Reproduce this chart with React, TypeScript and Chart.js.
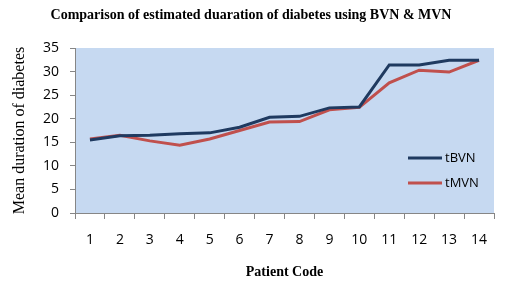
import React, { useEffect, useRef } from "react";
import { Chart, registerables } from "chart.js";

Chart.register(...registerables);

const patientCodes = ["1", "2", "3", "4", "5", "6", "7", "8", "9", "10", "11", "12", "13", "14"];
const tBVN = [15.5, 16.4, 16.5, 16.8, 17.0, 18.2, 20.3, 20.5, 22.3, 22.5, 31.4, 31.4, 32.4, 32.4];
const tMVN = [15.7, 16.5, 15.3, 14.4, 15.7, 17.5, 19.3, 19.4, 21.9, 22.4, 27.6, 30.3, 29.9, 32.4];
const chartTitle = "Comparison of estimated duaration of diabetes using BVN & MVN";
const xTitle = "Patient Code";
const yTitle = "Mean duration of diabetes";

const BLUE = "#1F3A60";
const RED = "#C0504D";
const AXIS = "#868686";

const overlayPlugin = {
  id: "overlay",
  beforeDraw(chart: any) {
    const { ctx, chartArea } = chart;
    ctx.save();
    ctx.fillStyle = "#ffffff";
    ctx.fillRect(0, 0, chart.width, chart.height);
    ctx.fillStyle = "#C6D9F1";
    ctx.fillRect(chartArea.left, chartArea.top, chartArea.right - chartArea.left, chartArea.bottom - chartArea.top);
    ctx.restore();
  },
  afterDraw(chart: any) {
    const { ctx } = chart;
    ctx.save();
    ctx.fillStyle = "#000000";
    ctx.font = "bold 14px 'Liberation Serif', serif";
    ctx.textAlign = "center";
    ctx.textBaseline = "middle";
    ctx.fillText(chartTitle, 251, 15);
    // legend
    const items = chart.data.datasets;
    items.forEach((ds: any, i: number) => {
      const y = 158 + i * 25;
      ctx.strokeStyle = ds.borderColor;
      ctx.lineWidth = 3;
      ctx.beginPath();
      ctx.moveTo(408, y);
      ctx.lineTo(442, y);
      ctx.stroke();
      ctx.fillStyle = "#000000";
      ctx.font = "13px 'Open Sans', sans-serif";
      ctx.textAlign = "left";
      ctx.textBaseline = "middle";
      ctx.fillText(ds.label, 445, y);
    });
    ctx.restore();
  },
};

export default function App() {
  const ref = useRef<HTMLCanvasElement>(null);
  useEffect(() => {
    document.body.style.margin = "0";
    const chart = new Chart(ref.current!, {
      type: "line",
      data: {
        labels: patientCodes,
        datasets: [
          { label: "tBVN", data: tBVN, borderColor: BLUE, backgroundColor: BLUE, borderWidth: 3, pointRadius: 0, tension: 0 },
          { label: "tMVN", data: tMVN, borderColor: RED, backgroundColor: RED, borderWidth: 3, pointRadius: 0, tension: 0 },
        ],
      },
      options: {
        animation: false,
        responsive: false,
        layout: { padding: { left: 0, right: 22, top: 48, bottom: 0 } },
        plugins: { legend: { display: false }, title: { display: false }, tooltip: { enabled: false } },
        scales: {
          x: {
            offset: true,
            grid: { display: true, drawOnChartArea: false, offset: true, color: AXIS, tickLength: 6 },
            border: { color: AXIS, width: 1 },
            ticks: { color: "#000", font: { family: "'Open Sans', sans-serif", size: 14 }, padding: 13, maxRotation: 0, autoSkip: false },
            title: { display: true, text: xTitle, color: "#000", font: { family: "'Liberation Serif', serif", size: 14, weight: "bold" }, padding: { top: 0, bottom: 6 } },
            afterFit: (s: any) => { s.height = 74; },
          },
          y: {
            min: 0,
            max: 35,
            grid: { display: true, drawOnChartArea: false, color: AXIS, tickLength: 5 },
            border: { color: AXIS, width: 1 },
            ticks: { stepSize: 5, color: "#000", font: { family: "'Open Sans', sans-serif", size: 14 }, padding: 11 },
            title: { display: true, text: yTitle, color: "#000", font: { family: "'Liberation Serif', serif", size: 16 }, padding: { top: 10, bottom: 0 } },
            afterFit: (s: any) => { s.width = 75; },
          },
        },
      },
      plugins: [overlayPlugin],
    });
    return () => chart.destroy();
  }, []);
  return <canvas ref={ref} width={516} height={287} style={{ display: "block" }} />;
}
